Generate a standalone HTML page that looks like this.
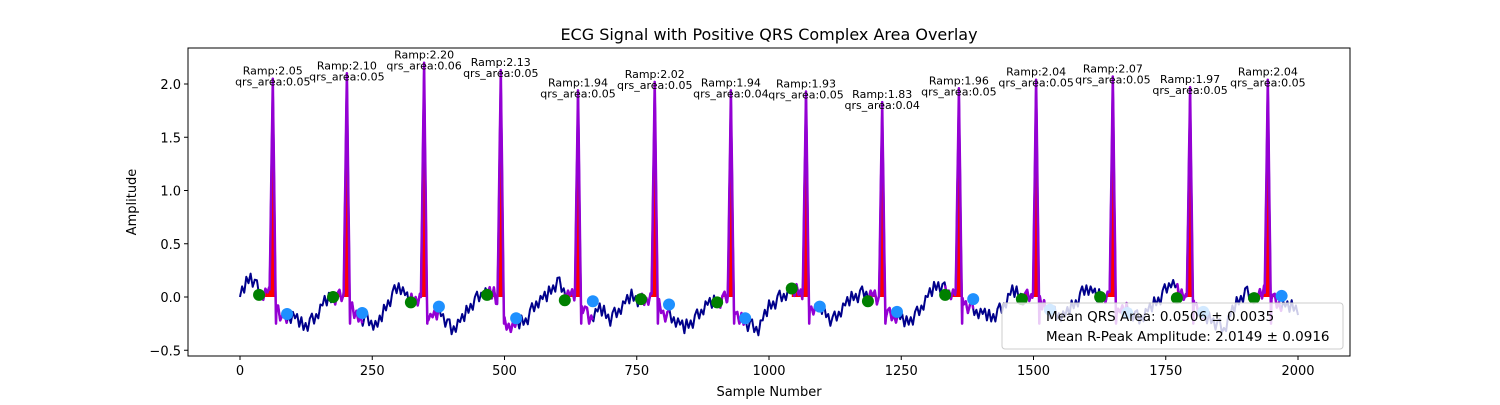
<!DOCTYPE html>
<html><head><meta charset="utf-8"><style>
body{margin:0;background:#fff;font-family:"Liberation Sans","DejaVu Sans",sans-serif}
svg text{font-family:"DejaVu Sans","Liberation Sans",sans-serif}
</style></head><body>
<svg id="chart" width="1500" height="400" xmlns="http://www.w3.org/2000/svg">
<rect width="1500" height="400" fill="#fff"/>
<text x="769" y="40" text-anchor="middle" font-size="16">ECG Signal with Positive QRS Complex Area Overlay</text>
<g id="plot"></g>
<rect x="188" y="48" width="1162" height="308" fill="none" stroke="#000" stroke-width="1"/>
<text x="769" y="396" text-anchor="middle" font-size="13">Sample Number</text>
<text transform="translate(136,202) rotate(-90)" text-anchor="middle" font-size="13">Amplitude</text>
<g>
<rect x="1002" y="303" width="341" height="46" rx="3" fill="#fff" fill-opacity="0.8" stroke="#ccc"/>
<text x="1046" y="321" font-size="13.5">Mean QRS Area: 0.0506 ± 0.0035</text>
<text x="1046" y="341" font-size="13.5">Mean R-Peak Amplitude: 2.0149 ± 0.0916</text>
</g>
</svg>
<script>
const baseline=[0.0,0.2,0.03,0.05,-0.2,-0.18,-0.28,-0.2,-0.05,0.0,0.02,-0.2,-0.2,-0.28,-0.05,0.12,-0.05,0.0,-0.2,-0.15,-0.3,-0.22,-0.05,0.05,0.02,-0.25,-0.28,-0.22,-0.05,0.0,0.15,0.02,0.0,-0.2,-0.12,-0.2,-0.1,0.0,-0.03,0.0,-0.15,-0.2,-0.3,-0.2,-0.08,-0.05,0.0,-0.2,-0.25,-0.3,-0.1,0.0,0.05,0.05,-0.1,-0.12,-0.22,-0.1,0.0,0.05,0.0,-0.15,-0.18,-0.25,-0.15,0.0,0.12,0.05,0.0,-0.1,-0.15,-0.2,-0.1,0.05,0.0,0.02,-0.1,-0.15,-0.18,-0.05,0.1,0.0,0.02,-0.15,-0.12,-0.2,-0.12,0.0,0.15,0.0,0.02,-0.2,-0.22,-0.3,-0.1,0.05,-0.01,0.05,-0.05,-0.1,-0.1];
const baseStep=20;
const jitter=[0,0.06,-0.04,0.07,-0.03,0.02,-0.07,0.03,0.06,-0.05,0.01,-0.06,0.04];
const jitterStep=4;
const peaks=[62,202,348,493,639,784,928,1070,1214,1359,1505,1650,1796,1943];
const amps=[2.05,2.10,2.20,2.13,1.94,2.02,1.94,1.93,1.83,1.96,2.04,2.07,1.97,2.04];
const areas=[0.05,0.05,0.06,0.05,0.05,0.05,0.04,0.05,0.04,0.05,0.05,0.05,0.05,0.05];
const onsets=[36,176,323,467,614,758,902,1043,1187,1333,1478,1626,1771,1917];
const onsetVals=[0.02,0.0,-0.05,0.02,-0.03,-0.02,-0.05,0.08,-0.04,0.02,-0.02,0.0,-0.01,-0.01];
const offsets=[89,231,376,522,667,811,955,1096,1242,1386,1531,1677,1821,1969];
const offsetVals=[-0.16,-0.15,-0.09,-0.2,-0.04,-0.07,-0.2,-0.09,-0.14,-0.02,-0.12,-0.15,-0.14,0.01];
const xTicks=[0,250,500,750,1000,1250,1500,1750,2000];
const yTicks=[-0.5,0.0,0.5,1.0,1.5,2.0];

const X=s=>240+s*0.529, Y=v=>297-v*106.5;
const NS="http://www.w3.org/2000/svg";
const plot=document.getElementById('plot');
function mk(t,a){const e=document.createElementNS(NS,t);for(const k in a)e.setAttribute(k,a[k]);return e;}
function sig(s){
  const i=Math.min(Math.floor(s/baseStep),baseline.length-2),f=s/baseStep-i;
  const j=Math.floor(s/jitterStep),g=s/jitterStep-j;
  let v=baseline[i]*(1-f)+baseline[i+1]*f+jitter[j%jitter.length]*(1-g)+jitter[(j+1)%jitter.length]*g;
  for(let k=0;k<peaks.length;k++){const d=s-peaks[k];
    if(d>=-6&&d<=0){const b=onsetVals[k]+0.05;v=b+(amps[k]-b)*(1+d/6);}
    else if(d>0&&d<=6){v=amps[k]+(-0.25-amps[k])*(d/6);}}
  return v;
}
xTicks.forEach(t=>{const x=X(t);
  const l=mk('line',{x1:x,x2:x,y1:356,y2:360,stroke:'#000'});
  plot.appendChild(l);
  const tx=mk('text',{x:x,y:375,'text-anchor':'middle','font-size':'13'});tx.textContent=t;
  plot.appendChild(tx);});
yTicks.forEach(t=>{const y=Y(t);
  const l=mk('line',{x1:184,x2:188,y1:y,y2:y,stroke:'#000'});
  plot.appendChild(l);
  const tx=mk('text',{x:181,y:y+5,'text-anchor':'end','font-size':'13'});tx.textContent=t.toFixed(1).replace('-','\u2212');
  plot.appendChild(tx);});
for(let k=0;k<peaks.length;k++){
  let pts=[X(onsets[k])+','+Y(0)];
  for(let s=onsets[k];s<=offsets[k];s++)pts.push(X(s)+','+Y(Math.max(sig(s),0)));
  pts.push(X(offsets[k])+','+Y(0));
  const p=mk('polygon',{points:pts.join(' '),fill:'#ff0000'});
  plot.appendChild(p);}
let pts=[];for(let s=0;s<=2000;s++)pts.push(X(s).toFixed(1)+','+Y(sig(s)).toFixed(1));
const ln=mk('polyline',{points:pts.join(' '),fill:'none',stroke:'#00008b','stroke-width':'2','stroke-linejoin':'round'});
plot.appendChild(ln);
for(let k=0;k<peaks.length;k++){
  let q=[];for(let s=onsets[k];s<=offsets[k];s++)q.push(X(s).toFixed(1)+','+Y(sig(s)).toFixed(1));
  const p=mk('polyline',{points:q.join(' '),fill:'none',stroke:'#9400d3','stroke-width':'2.5','stroke-linejoin':'round'});
  plot.appendChild(p);}
for(let k=0;k<peaks.length;k++){
  const g=mk('circle',{cx:X(onsets[k]),cy:Y(onsetVals[k]),r:6,fill:'#008000'});
  plot.appendChild(g);
  const b=mk('circle',{cx:X(offsets[k]),cy:Y(offsetVals[k]),r:6,fill:'#1e90ff'});
  plot.appendChild(b);
  const py=Y(amps[k]);
  const t1=mk('text',{x:X(peaks[k]),y:py-4,'text-anchor':'middle','font-size':'11'});t1.textContent='Ramp:'+amps[k].toFixed(2);
  plot.appendChild(t1);
  const t2=mk('text',{x:X(peaks[k]),y:py+7,'text-anchor':'middle','font-size':'11'});t2.textContent='qrs_area:'+areas[k].toFixed(2);
  plot.appendChild(t2);}
</script>
</body></html>
